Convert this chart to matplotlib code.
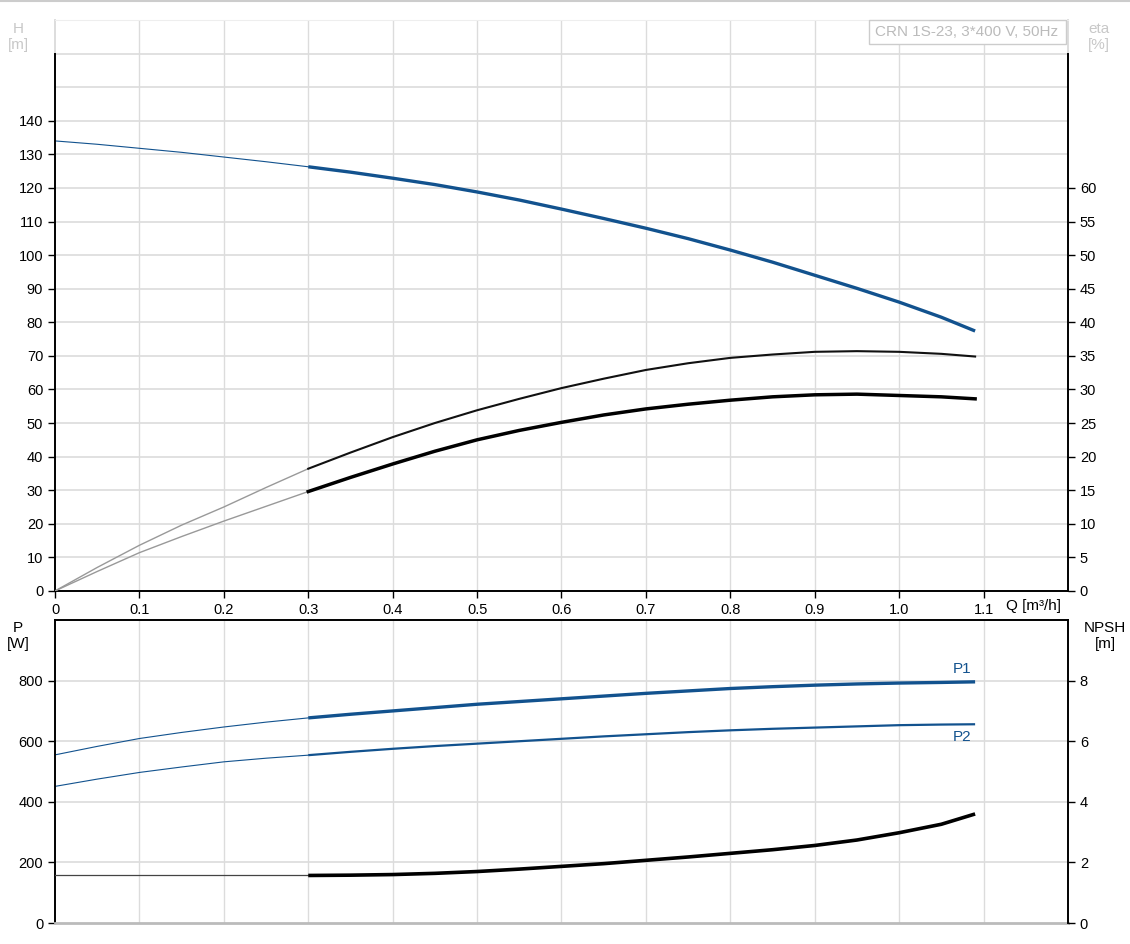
import numpy as np
import matplotlib.pyplot as plt
from matplotlib.patches import Rectangle

plt.rcParams['font.family'] = ['Liberation Sans', 'DejaVu Sans']
plt.rcParams['font.size'] = 10.5

# flow [m3/h]
q = [0, 0.05, 0.1, 0.15, 0.2, 0.25, 0.3, 0.35, 0.4, 0.45, 0.5, 0.55, 0.6,
     0.65, 0.7, 0.75, 0.8, 0.85, 0.9, 0.95, 1.0, 1.05, 1.09]
# head [m]
h = [134, 133, 131.8, 130.6, 129.2, 127.8, 126.3, 124.7, 122.9, 121.0, 118.8, 116.4,
     113.7, 110.9, 108.0, 104.9, 101.5, 97.9, 94.0, 90.1, 86.0, 81.5, 77.4]
# efficiencies [%]
eta_p = [0, 3.5, 6.8, 9.8, 12.5, 15.4, 18.2, 20.6, 22.9, 25.0, 26.9, 28.6, 30.2,
         31.6, 32.9, 33.9, 34.7, 35.2, 35.6, 35.7, 35.6, 35.3, 34.9]
eta_t = [0, 2.9, 5.7, 8.1, 10.4, 12.6, 14.8, 16.9, 18.9, 20.8, 22.5, 23.9, 25.1,
         26.2, 27.1, 27.8, 28.4, 28.9, 29.2, 29.3, 29.1, 28.9, 28.6]
# power [W]
p1 = [555, 583, 609, 629, 647, 663, 677, 689, 700, 711, 722, 731, 740,
      749, 758, 766, 774, 780, 785, 789, 792, 794, 796]
p2 = [451, 475, 497, 515, 532, 544, 554, 565, 575, 584, 592, 600, 608,
      616, 623, 630, 636, 641, 645, 649, 653, 655, 656]
# NPSH [m]
npsh = [1.57, 1.57, 1.57, 1.57, 1.57, 1.57, 1.57, 1.58, 1.6, 1.64, 1.7, 1.78, 1.87,
        1.96, 2.07, 2.18, 2.3, 2.42, 2.56, 2.74, 2.98, 3.26, 3.6]

h_ticks = list(range(0, 141, 10))
eta_ticks = list(range(0, 61, 5))
q_ticks = [0, 0.1, 0.2, 0.3, 0.4, 0.5, 0.6, 0.7, 0.8, 0.9, 1.0, 1.1]
q_labels = ['0', '0.1', '0.2', '0.3', '0.4', '0.5', '0.6', '0.7', '0.8', '0.9', '1.0', '1.1']
p_ticks = [0, 200, 400, 600, 800]
npsh_ticks = [0, 2, 4, 6, 8]
title = 'CRN 1S-23, 3*400 V, 50Hz'

blue = '#12528e'
grid_c = '#dcdcdc'
light = '#c8c8c8'
k = q.index(0.3)  # operating range starts here

fig = plt.figure(figsize=(11.3, 9.44), dpi=100)
fig.add_artist(plt.Line2D([0, 1], [0.999, 0.999], color='#cccccc', lw=1.5))

# ---------------- top chart: H and eta ----------------
ax = fig.add_axes([0.0487, 0.374, 0.8964, 0.6048])
ax.set_xlim(0, 1.2)
ax.set_ylim(0, 170)
for v in np.arange(0.1, 1.2, 0.1):
    ax.axvline(v, color=grid_c, lw=1, zorder=0)
for v in range(10, 171, 10):
    ax.axhline(v, color=grid_c if v <= 160 else '#f0f0f0', lw=1.2, zorder=0)
ax.set_xticks(q_ticks)
ax.set_xticklabels(q_labels)
ax.set_yticks(h_ticks)
ax.tick_params(direction='out', length=5, width=1, colors='black')
for s in ['left', 'bottom']:
    ax.spines[s].set_linewidth(1.4)
ax.spines['left'].set_bounds(0, 160)
ax.spines['right'].set_visible(False)
ax.spines['top'].set_color('#eeeeee')
ax.plot([0, 0], [160, 170], color='#dddddd', lw=1.4, clip_on=False)
ax.plot([1.2, 1.2], [160, 170], color='#dddddd', lw=1.4, clip_on=False)

ax.plot(q[:k + 1], h[:k + 1], color=blue, lw=0.8)
ax.plot(q[k:], h[k:], color=blue, lw=2.4, solid_capstyle='butt')

ax2 = ax.twinx()
ax2.set_ylim(0, 85)
ax2.set_yticks(eta_ticks)
ax2.tick_params(direction='out', length=5, width=1, colors='black')
for s in ['left', 'top', 'bottom']:
    ax2.spines[s].set_visible(False)
ax2.spines['right'].set_linewidth(1.4)
ax2.spines['right'].set_bounds(0, 80)
ax2.plot(q[:k + 1], eta_p[:k + 1], color='#999999', lw=1.0)
ax2.plot(q[:k + 1], eta_t[:k + 1], color='#999999', lw=1.0)
ax2.plot(q[k:], eta_p[k:], color='#111111', lw=1.5)
ax2.plot(q[k:], eta_t[k:], color='black', lw=2.5)

# title box in the top right corner
box_x0 = (870 - 55) / 845
box_y0 = 170 - 24 / 3.36
ax.add_patch(Rectangle((box_x0, box_y0), 1.198 - box_x0, 170 - box_y0,
                       fc='white', ec='#cccccc', lw=1, clip_on=False, zorder=5))
ax.text(box_x0 + 0.007, (box_y0 + 170) / 2, title, color='#bbbbbb',
        ha='left', va='center', fontsize=11, zorder=6)

fig.text(18 / 1130, 1 - 37 / 944, 'H\n[m]', color=light, ha='center', va='center', fontsize=11)
fig.text(1099 / 1130, 1 - 37 / 944, 'eta\n[%]', color=light, ha='center', va='center', fontsize=11)
fig.text(1034 / 1130, 1 - 606 / 944, 'Q [m³/h]', ha='center', va='center', fontsize=11)

# ---------------- bottom chart: P and NPSH ----------------
bx = fig.add_axes([0.0487, 0.0222, 0.8964, 0.3210])
bx.set_xlim(0, 1.2)
bx.set_ylim(0, 1000)
for v in np.arange(0.1, 1.2, 0.1):
    bx.axvline(v, color=grid_c, lw=1, zorder=0)
for v in p_ticks[1:]:
    bx.axhline(v, color=grid_c, lw=1.2, zorder=0)
bx.set_xticks([])
bx.set_yticks(p_ticks)
bx.tick_params(direction='out', length=5, width=1, colors='black')
bx.spines['left'].set_linewidth(1.4)
bx.spines['top'].set_linewidth(1.4)
bx.spines['right'].set_visible(False)
bx.spines['bottom'].set_color('#bbbbbb')
bx.spines['bottom'].set_linewidth(2)

bx.plot(q[:k + 1], p1[:k + 1], color=blue, lw=0.8)
bx.plot(q[k:], p1[k:], color=blue, lw=2.4, solid_capstyle='butt')
bx.plot(q[:k + 1], p2[:k + 1], color=blue, lw=0.8)
bx.plot(q[k:], p2[k:], color=blue, lw=1.6, solid_capstyle='butt')
bx.text(q[-1] - 0.005, p1[-1] + 18, 'P1', color=blue, ha='right', va='bottom', fontsize=11)
bx.text(q[-1] - 0.005, p2[-1] - 18, 'P2', color=blue, ha='right', va='top', fontsize=11)

bx2 = bx.twinx()
bx2.set_ylim(0, 10)
bx2.set_yticks(npsh_ticks)
bx2.tick_params(direction='out', length=5, width=1, colors='black')
for s in ['left', 'top', 'bottom']:
    bx2.spines[s].set_visible(False)
bx2.spines['right'].set_linewidth(1.4)
bx2.plot(q[:k + 1], npsh[:k + 1], color='#444444', lw=0.9)
bx2.plot(q[k:], npsh[k:], color='black', lw=2.6, solid_capstyle='butt')

fig.text(18 / 1130, 1 - 636 / 944, 'P\n[W]', ha='center', va='center', fontsize=11)
fig.text(1105 / 1130, 1 - 636 / 944, 'NPSH\n[m]', ha='center', va='center', fontsize=11)

fig.savefig('out.png', dpi=100)
